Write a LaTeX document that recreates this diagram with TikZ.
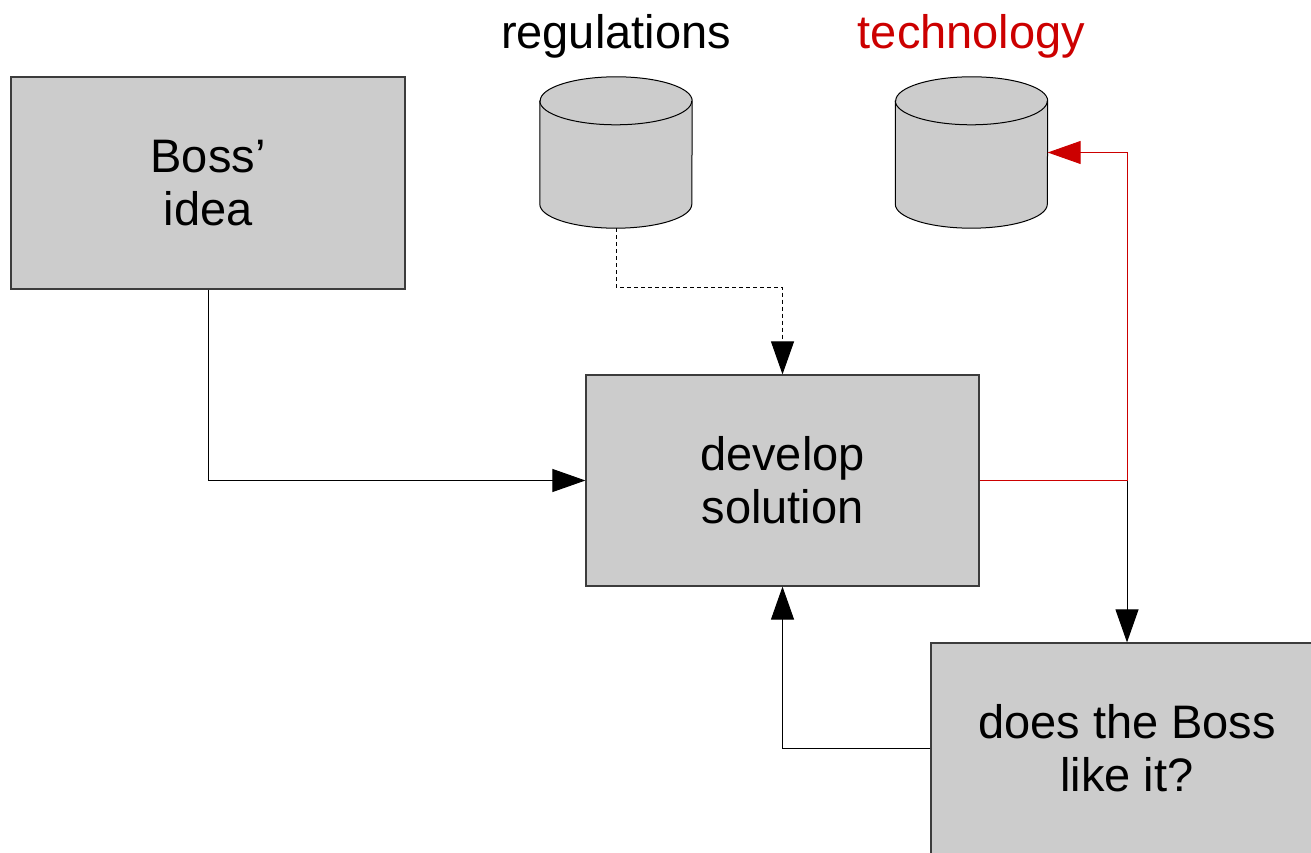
\documentclass[tikz,border=0pt]{standalone}
\usepackage{fontspec}
\setmainfont{Liberation Sans}
\usetikzlibrary{positioning,arrows.meta}

\definecolor{boxgray}{HTML}{CCCCCC}
\definecolor{boxline}{HTML}{3C3C3C}
\definecolor{techred}{HTML}{CC0000}

\tikzset{
  box/.style={draw=boxline, line width=1.2pt, fill=boxgray, align=center,
    minimum width=393pt, minimum height=211pt, inner sep=0pt},
  dbnode/.style={minimum width=152pt, minimum height=151pt, inner sep=0pt},
  dbshape/.style={draw=black, line width=1pt, fill=boxgray},
  lbl/.style={inner sep=0pt},
  flow/.style={draw, line width=1pt, -{Triangle[length=33pt, width=23pt]}},
}

\begin{document}
\begin{tikzpicture}[x=1pt, y=1pt, font=\fontsize{47}{53}\selectfont]
\useasboundingbox (0,0) rectangle (1311,852);
\clip (0,0) rectangle (1311,852);

% boxes
\node[box, minimum width=394pt, minimum height=212pt] (idea) at (208,669) {Boss’\\idea};
\node[box] (dev) at (782.5,371.5) {develop\\solution};
\node[box, minimum width=392pt] (like) at (1127,103.5) {does the Boss\\like it?};

% data stores
\node[dbnode] (reg) at (616,699.5) {};
\node[dbnode] (tech) at (971.5,699.5) {};
\foreach \db in {reg,tech}{
  \draw[dbshape] ([yshift=-24pt]\db.north west) -- ([yshift=24pt]\db.south west)
    arc[start angle=180, end angle=360, x radius=76, y radius=24]
    -- ([yshift=-24pt]\db.north east)
    arc[start angle=0, end angle=180, x radius=76, y radius=24] -- cycle;
  \draw[line width=1pt] ([yshift=-24pt]\db.north west)
    arc[start angle=180, end angle=360, x radius=76, y radius=24];
}
\node[lbl, above=18pt of reg] (reglbl) {regulations};
\node[lbl, above=18pt of tech, text=techred] (techlbl) {technology};

% connectors
\draw[flow] (idea.south) |- (dev.west);
\draw[flow, dash pattern=on 4pt off 3pt] (reg.south) -- ++(0,-59) -| (dev.north);
\draw[flow] (dev.east) -| (like.north);
\draw[flow] (like.west) -| (dev.south);
\draw[flow, draw=techred, -{Triangle[length=33pt, width=23pt, color=techred]}]
  (dev.east) -| (like.north |- tech.east) -- (tech.east);
\end{tikzpicture}
\end{document}
